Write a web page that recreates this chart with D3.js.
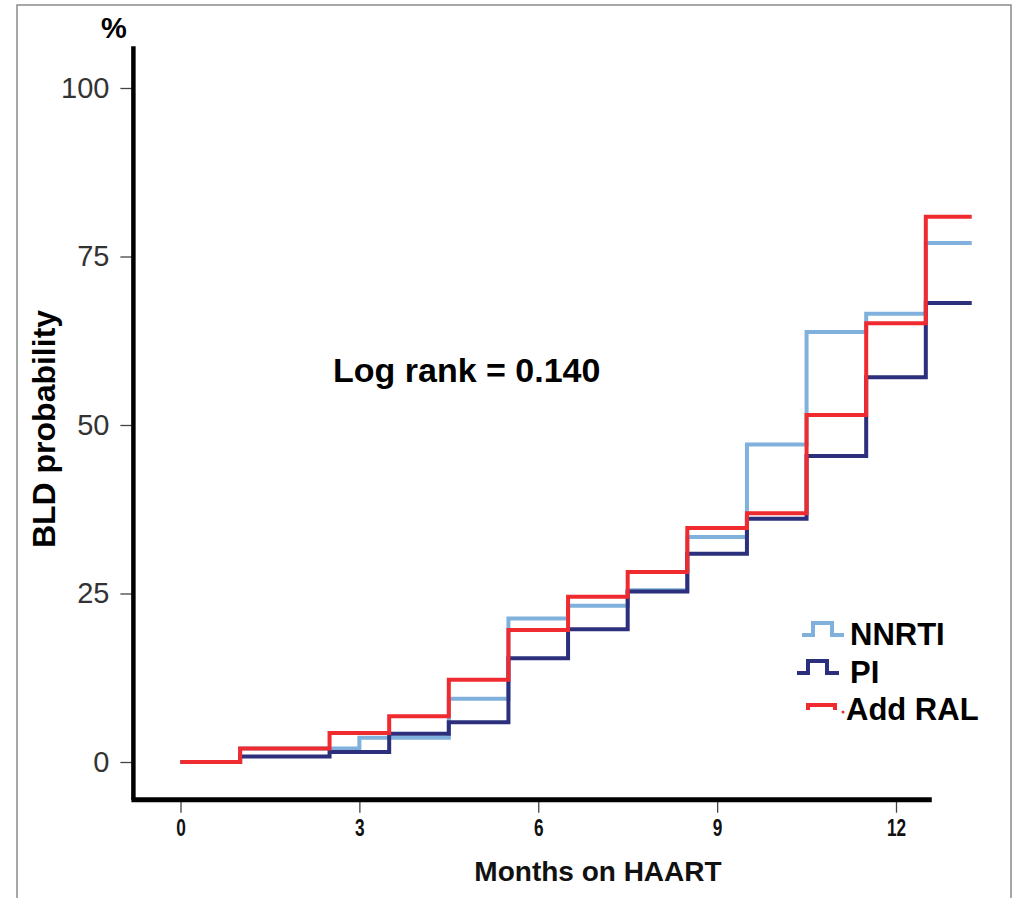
<!DOCTYPE html>
<html>
<head>
<meta charset="utf-8">
<script src="https://cdn.jsdelivr.net/npm/d3@7"></script>
<style>
  body { margin: 0; background: #fff; }
  svg { display: block; }
</style>
</head>
<body>
<svg id="canvas"></svg>
<script>
// step times (months) and cumulative BLD probability (%)
const nnrtiTimes = [0, 1, 3, 4.5, 5.5, 6.5, 7.5, 8.5, 9.5, 10.5, 11.5, 12.5, 13.27];
const nnrtiValues = [0, 2.0, 3.6, 9.4, 21.3, 23.2, 25.5, 33.4, 47.1, 63.8, 66.5, 77.0, 77.0];
const piTimes = [0, 1, 2.5, 3.5, 4.5, 5.5, 6.5, 7.5, 8.5, 9.5, 10.5, 11.5, 12.5, 13.27];
const piValues = [0, 0.8, 1.5, 4.2, 5.9, 15.4, 19.7, 25.3, 30.9, 36.1, 45.4, 57.1, 68.1, 68.1];
const ralTimes = [0, 1, 2.5, 3.5, 4.5, 5.5, 6.5, 7.5, 8.5, 9.5, 10.5, 11.5, 12.5, 13.27];
const ralValues = [0, 2.0, 4.3, 6.8, 12.2, 19.6, 24.5, 28.2, 34.7, 36.9, 51.5, 65.1, 80.9, 80.9];
const seriesNames = ['NNRTI', 'PI', 'Add RAL'];
const seriesColors = ['#7fb1dc', '#2c2f7c', '#ef2b30'];
const xTicks = [0, 3, 6, 9, 12];
const yTicks = [0, 25, 50, 75, 100];

const w = 1019;
const h = 898;
const svg = d3.select('#canvas').attr('width', w).attr('height', h);

// grey frame
svg.append('rect')
  .attr('x', 17).attr('y', 5).attr('width', 994).attr('height', 900)
  .attr('fill', 'none').attr('stroke', '#8a8a8a').attr('stroke-width', 1.5);

const x = d3.scaleLinear().domain([0, 12]).range([180.5, 896]);
const y = d3.scaleLinear().domain([0, 100]).range([762, 88]);

const axisX = x(-0.79);
const axisY = y(-5.6);

// y ticks
const yAxis = d3.axisLeft(y).tickValues(yTicks).tickSize(13).tickSizeOuter(0).tickPadding(11);
const gy = svg.append('g').attr('transform', 'translate(' + axisX + ',0)').call(yAxis);
gy.select('.domain').remove();
gy.selectAll('.tick line').attr('stroke', '#444').attr('stroke-width', 1.3);
gy.selectAll('.tick text')
  .attr('fill', '#333')
  .style('font-family', '"Liberation Sans", Arial, sans-serif')
  .style('font-size', '29px')
  .style('font-weight', '300');

// x ticks
const xAxis = d3.axisBottom(x).tickValues(xTicks).tickSize(13).tickSizeOuter(0).tickPadding(7);
const gx = svg.append('g').attr('transform', 'translate(0,' + axisY + ')').call(xAxis);
gx.select('.domain').remove();
gx.selectAll('.tick line').attr('stroke', '#444').attr('stroke-width', 1.3);
gx.selectAll('.tick text')
  .attr('fill', '#111')
  .attr('transform', 'scale(0.75,1)')
  .style('font-family', '"Liberation Sans", Arial, sans-serif')
  .style('font-size', '23px')
  .style('font-weight', 'bold');

// thick axis lines
svg.append('line')
  .attr('x1', axisX).attr('x2', axisX).attr('y1', y(106.2)).attr('y2', axisY)
  .attr('stroke', '#000').attr('stroke-width', 4.5);
svg.append('line')
  .attr('x1', axisX - 2).attr('x2', x(12.6)).attr('y1', axisY).attr('y2', axisY)
  .attr('stroke', '#000').attr('stroke-width', 5);

// step curves
const line = d3.line()
  .x((d) => x(d[0]))
  .y((d) => y(d[1]))
  .curve(d3.curveStepAfter);

const allTimes = [nnrtiTimes, piTimes, ralTimes];
const allValues = [nnrtiValues, piValues, ralValues];
allTimes.forEach((times, i) => {
  svg.append('path')
    .datum(times.map((t, j) => [t, allValues[i][j]]))
    .attr('d', line)
    .attr('fill', 'none')
    .attr('stroke', seriesColors[i])
    .attr('stroke-width', 4);
});

const font = '"Liberation Sans", Arial, sans-serif';

// titles
svg.append('text')
  .attr('x', 114).attr('y', 38)
  .attr('text-anchor', 'middle')
  .style('font-family', font).style('font-size', '29px').style('font-weight', 'bold')
  .text('%');

svg.append('text')
  .attr('transform', 'translate(55,' + 429 + ') rotate(-90)')
  .attr('text-anchor', 'middle')
  .style('font-family', font).style('font-size', '32px').style('font-weight', 'bold')
  .text('BLD probability');

svg.append('text')
  .attr('x', 598).attr('y', 881)
  .attr('text-anchor', 'middle')
  .style('font-family', font).style('font-size', '28px').style('font-weight', 'bold')
  .attr('fill', '#111')
  .text('Months on HAART');

svg.append('text')
  .attr('x', 333).attr('y', 382)
  .style('font-family', font).style('font-size', '34px').style('font-weight', 'bold')
  .text('Log rank = 0.140');

// legend
const legendY = [645, 683, 720];
const legend = svg.append('g');
seriesNames.forEach((name, i) => {
  const ly = legendY[i];
  const g = legend.append('g');
  if (i < 2) {
    const x0 = i === 0 ? 802 : 797;
    g.append('path')
      .attr('d', 'M' + x0 + ',' + (ly - 10) + ' h11 v-12 h19 v12 h12')
      .attr('fill', 'none').attr('stroke', seriesColors[i]).attr('stroke-width', 4);
  } else {
    g.append('path')
      .attr('d', 'M' + 808 + ',' + (ly - 10) + ' v-5 h27 v5')
      .attr('fill', 'none').attr('stroke', seriesColors[i]).attr('stroke-width', 4);
    g.append('circle')
      .attr('cx', 843).attr('cy', ly - 8).attr('r', 1.5).attr('fill', seriesColors[i]);
  }
  g.append('text')
    .attr('x', i === 2 ? 846 : 850).attr('y', ly)
    .style('font-family', font).style('font-size', '31px').style('font-weight', 'bold')
    .text(name);
});
</script>
</body>
</html>
